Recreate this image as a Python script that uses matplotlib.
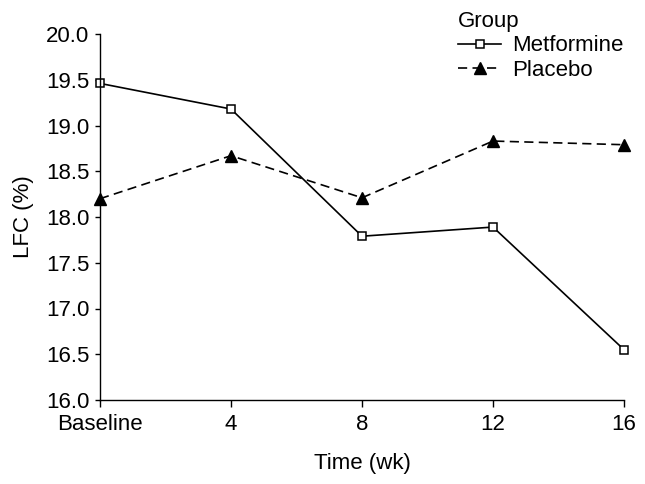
import matplotlib
matplotlib.use("Agg")
import matplotlib.pyplot as plt

plt.rcParams['font.family'] = ['Liberation Sans', 'DejaVu Sans']

time_labels = ["Baseline", "4", "8", "12", "16"]
weeks = [0, 4, 8, 12, 16]
metformine = [19.46, 19.18, 17.79, 17.89, 16.55]
placebo = [18.20, 18.67, 18.21, 18.83, 18.79]

FS = 16
fig = plt.figure(figsize=(6.45, 4.84), dpi=100)
ax = fig.add_axes([100/645, 1-400/484, 524/645, 366/484])

ax.plot(weeks, metformine, color='black', lw=1.2, ls='-', marker='s', ms=6,
        mfc='white', mec='black', mew=1.1, label='Metformine', clip_on=False)
ax.plot(weeks, placebo, color='black', lw=1.2, ls=(0, (5.5, 3.2)), marker='^', ms=8,
        mfc='black', mec='black', label='Placebo', clip_on=False)

ax.set_xlim(0, 16)
ax.set_ylim(16.0, 20.0)
ax.set_xticks(weeks)
ax.set_xticklabels(time_labels)
ax.set_yticks([16.0 + 0.5*i for i in range(9)])
ax.set_yticklabels([f"{16.0 + 0.5*i:.1f}" for i in range(9)])
ax.spines['top'].set_visible(False)
ax.spines['right'].set_visible(False)
for s in ('left', 'bottom'):
    ax.spines[s].set_linewidth(1.0)
ax.tick_params(axis='y', direction='out', length=3.6, width=1.0, labelsize=FS, pad=4)
ax.tick_params(axis='x', direction='out', length=5, width=1.0, labelsize=FS, pad=5)
ax.set_xlabel("Time (wk)", fontsize=FS, labelpad=13)
ax.set_ylabel("LFC (%)", fontsize=FS, labelpad=9)

leg = ax.legend(title="Group", loc='upper left', bbox_to_anchor=(458/645, 1-11/484),
                bbox_transform=fig.transFigure,
                frameon=False, fontsize=FS, title_fontsize=FS, handlelength=1.95,
                borderaxespad=0, borderpad=0, labelspacing=0.15, handletextpad=0.5)
leg._legend_box.align = "left"

fig.savefig("out.png", dpi=100)
